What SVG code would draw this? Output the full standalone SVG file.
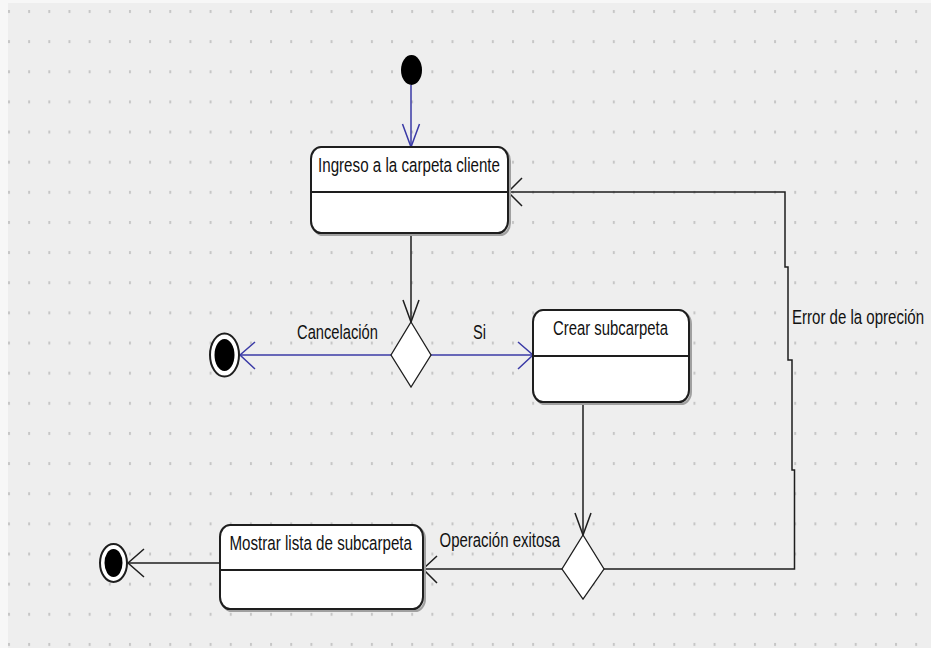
<svg xmlns="http://www.w3.org/2000/svg" width="931" height="648" viewBox="0 0 931 648">
  <defs>
    <pattern id="grid" x="8" y="10" width="20.16" height="30.14" patternUnits="userSpaceOnUse">
      <rect x="0" y="0" width="2" height="3" fill="#c6c6c6"/>
    </pattern>
    <style>
      .state { fill: #ffffff; stroke: #1e1e1e; stroke-width: 2; }
      .shadow { fill: none; stroke: #a0a0a0; stroke-width: 2; }
      .divider { stroke: #1e1e1e; stroke-width: 2; }
      .dec { fill: #ffffff; stroke: #1e1e1e; stroke-width: 1.3; }
      .flow { fill: none; stroke: #1e1e1e; stroke-width: 1.5; }
      .flow-sel { fill: none; stroke: #3a3aa6; stroke-width: 1.5; }
      .label { font-family: "Liberation Sans", Arial, sans-serif; font-size: 20.5px; fill: #111111; }
    </style>
  </defs>

  <!-- canvas -->
  <rect x="0" y="0" width="931" height="648" fill="#f7f7f7"/>
  <rect x="8" y="3" width="923" height="645" fill="#eeeeee"/>
  <rect x="8" y="3" width="923" height="645" fill="url(#grid)"/>

  <!-- connectors -->
  <g id="connectors">
    <!-- start -> Ingreso -->
    <line class="flow-sel" x1="411" y1="85" x2="411" y2="147"/>
    <polyline class="flow-sel" points="402.5,124 411,147 419.5,124"/>

    <!-- Ingreso -> decision 1 -->
    <line class="flow" x1="411" y1="233" x2="411" y2="322"/>
    <polyline class="flow" points="403,300 411,322 419,300"/>

    <!-- decision 1 -> end (Cancelación) -->
    <line class="flow-sel" x1="391" y1="355" x2="240" y2="355"/>
    <polyline class="flow-sel" points="255,342 240,355 255,369"/>

    <!-- decision 1 -> Crear subcarpeta (Si) -->
    <line class="flow-sel" x1="431" y1="355" x2="533" y2="355"/>
    <polyline class="flow-sel" points="518,342 533,355 518,369"/>

    <!-- Crear subcarpeta -> decision 2 -->
    <line class="flow" x1="583" y1="402" x2="583" y2="535"/>
    <polyline class="flow" points="575,513 583,535 591,513"/>

    <!-- decision 2 -> Mostrar lista (Operación exitosa) -->
    <line class="flow" x1="562" y1="569" x2="423" y2="569"/>
    <polyline class="flow" points="437,556 423,569 437,583"/>

    <!-- decision 2 -> Ingreso (Error de la opreción) -->
    <path class="flow" d="M604,569 H794.5 V470 H792 V360 H788 V267 H785 V192 H508"/>
    <polyline class="flow" points="522,178 508,192 522,206"/>

    <!-- Mostrar lista -> end -->
    <line class="flow" x1="220" y1="563" x2="128" y2="563"/>
    <polyline class="flow" points="144,549 128,563 144,577"/>
  </g>

  <!-- initial node -->
  <g id="start">
    <ellipse cx="411.5" cy="70" rx="10.5" ry="15" fill="#000000"/>
  </g>

  <!-- Ingreso a la carpeta cliente -->
  <g id="ingreso">
    <rect class="shadow" x="313" y="149" width="197" height="86" rx="10" ry="12"/>
    <rect class="state" x="311" y="147" width="197" height="86" rx="10" ry="12"/>
    <line class="divider" x1="311" y1="192" x2="508" y2="192"/>
    <text class="label" x="318" y="172" textLength="182" lengthAdjust="spacingAndGlyphs">Ingreso a la carpeta cliente</text>
  </g>

  <!-- decision 1 -->
  <g id="decision1">
    <polygon class="dec" points="411,322 431,355 411,387 391,355"/>
  </g>

  <!-- final node after cancel -->
  <g id="end1">
    <ellipse cx="224.5" cy="355" rx="14.5" ry="21.5" fill="#ffffff" stroke="#1e1e1e" stroke-width="2"/>
    <ellipse cx="224.5" cy="355" rx="10" ry="16" fill="#000000"/>
  </g>

  <!-- Crear subcarpeta -->
  <g id="crear">
    <rect class="shadow" x="535" y="312" width="156" height="92" rx="10" ry="12"/>
    <rect class="state" x="533" y="310" width="156" height="92" rx="10" ry="12"/>
    <line class="divider" x1="533" y1="356" x2="689" y2="356"/>
    <text class="label" x="553" y="335" textLength="115" lengthAdjust="spacingAndGlyphs">Crear subcarpeta</text>
  </g>

  <!-- decision 2 -->
  <g id="decision2">
    <polygon class="dec" points="583,535 604,569 583,599 562,569"/>
  </g>

  <!-- Mostrar lista de subcarpeta -->
  <g id="mostrar">
    <rect class="shadow" x="222" y="527" width="203" height="84" rx="10" ry="12"/>
    <rect class="state" x="220" y="525" width="203" height="84" rx="10" ry="12"/>
    <line class="divider" x1="220" y1="570" x2="423" y2="570"/>
    <text class="label" x="229.5" y="550" textLength="182.5" lengthAdjust="spacingAndGlyphs">Mostrar lista de subcarpeta</text>
  </g>

  <!-- final node after listing -->
  <g id="end2">
    <ellipse cx="113.5" cy="563" rx="13.5" ry="19" fill="#ffffff" stroke="#1e1e1e" stroke-width="2"/>
    <ellipse cx="113.5" cy="563" rx="9" ry="14" fill="#000000"/>
  </g>

  <!-- transition labels -->
  <g id="labels">
    <text class="label" x="297" y="339" textLength="81" lengthAdjust="spacingAndGlyphs">Cancelación</text>
    <text class="label" x="473" y="339" textLength="13" lengthAdjust="spacingAndGlyphs">Si</text>
    <text class="label" x="439.5" y="546.5" textLength="120.5" lengthAdjust="spacingAndGlyphs">Operación exitosa</text>
    <text class="label" x="792" y="324" textLength="132" lengthAdjust="spacingAndGlyphs">Error de la opreción</text>
  </g>
</svg>
